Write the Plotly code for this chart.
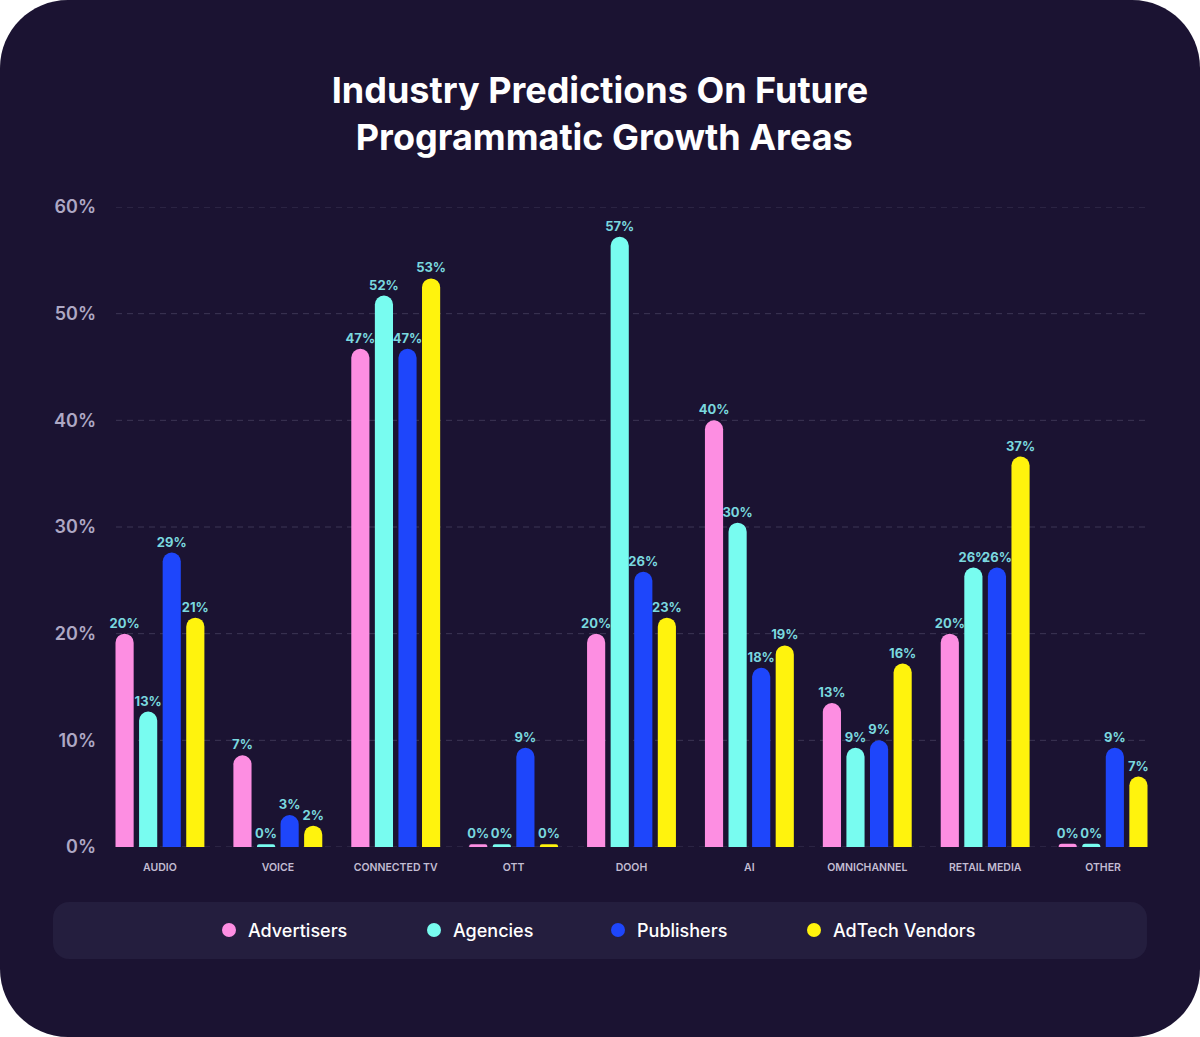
import plotly.graph_objects as go

# ---------------- data ----------------
categories = ["AUDIO", "VOICE", "CONNECTED TV", "OTT", "DOOH", "AI",
              "OMNICHANNEL", "RETAIL MEDIA", "OTHER"]
series_names = ["Advertisers", "Agencies", "Publishers", "AdTech Vendors"]

# bar heights as drawn (percent)
advertisers = [20.0, 8.6, 46.7, 0.25, 20.0, 40.0, 13.5, 20.0, 0.3]
agencies    = [12.7, 0.25, 51.7, 0.25, 57.2, 30.4, 9.3, 26.2, 0.3]
publishers  = [27.6, 3.0, 46.7, 9.3, 25.8, 16.8, 10.0, 26.2, 9.3]
adtech      = [21.5, 2.0, 53.3, 0.25, 21.5, 18.9, 17.2, 36.6, 6.6]

# printed labels
advertisers_lbl = ["20%", "7%", "47%", "0%", "20%", "40%", "13%", "20%", "0%"]
agencies_lbl    = ["13%", "0%", "52%", "0%", "57%", "30%", "9%", "26%", "0%"]
publishers_lbl  = ["29%", "3%", "47%", "9%", "26%", "18%", "9%", "26%", "9%"]
adtech_lbl      = ["21%", "2%", "53%", "0%", "23%", "19%", "16%", "37%", "7%"]

y_ticks = [0, 10, 20, 30, 40, 50, 60]
y_tick_labels = ["0%", "10%", "20%", "30%", "40%", "50%", "60%"]

colors = ["#fd8ee2", "#78fcf0", "#1e46fb", "#fff30d"]

# ---------------- layout geometry ----------------
W, H = 1200, 1037
ML, MR, MT, MB = 101, 38, 207, 190
PW, PH = W - ML - MR, H - MT - MB

def px_x(x):
    return (x - ML) / PW

def px_y(y):
    return (MT + PH - y) / PH

def rounded_rect(x0, y0, x1, y1, r):
    k = 0.5523 * r
    def P(x, y):
        return f"{px_x(x):.6f},{px_y(y):.6f}"
    path = f"M {P(x0 + r, y0)} L {P(x1 - r, y0)} "
    path += f"C {P(x1 - r + k, y0)} {P(x1, y0 + r - k)} {P(x1, y0 + r)} "
    path += f"L {P(x1, y1 - r)} "
    path += f"C {P(x1, y1 - r + k)} {P(x1 - r + k, y1)} {P(x1 - r, y1)} "
    path += f"L {P(x0 + r, y1)} "
    path += f"C {P(x0 + r - k, y1)} {P(x0, y1 - r + k)} {P(x0, y1 - r)} "
    path += f"L {P(x0, y0 + r)} "
    path += f"C {P(x0, y0 + r - k)} {P(x0 + r - k, y0)} {P(x0 + r, y0)} Z"
    return path

FONT = "Inter, Lato, sans-serif"

fig = go.Figure()

series_vals = [advertisers, agencies, publishers, adtech]
series_lbls = [advertisers_lbl, agencies_lbl, publishers_lbl, adtech_lbl]
for name, vals, lbls, col in zip(series_names, series_vals, series_lbls, colors):
    fig.add_trace(go.Bar(
        x=categories, y=vals, name=name,
        marker=dict(color=col, line=dict(width=0)),
        text=lbls, textposition="outside", constraintext="none",
        textfont=dict(family=FONT, size=13, color="#7ad8df", weight=700),
        cliponaxis=False, showlegend=False, hoverinfo="x+y+name",
    ))

shapes = []
# card background
shapes.append(dict(type="path", xref="paper", yref="paper",
                   path=rounded_rect(0, 0, W, H, 68),
                   fillcolor="#1b1332", line=dict(width=0), layer="below"))
# gridlines
for t in y_ticks:
    shapes.append(dict(type="line", xref="paper", yref="y",
                       x0=px_x(116), x1=px_x(1147), y0=t, y1=t,
                       line=dict(color="#3d3655", width=1, dash="6px,5px"),
                       layer="below"))
# legend box
shapes.append(dict(type="path", xref="paper", yref="paper",
                   path=rounded_rect(53, 902, 1147, 959, 16),
                   fillcolor="#241e3e", line=dict(width=0), layer="below"))

annotations = []
legend_dot_x = [229, 434, 618, 814]
legend_y = 930
for name, col, dx in zip(series_names, colors, legend_dot_x):
    shapes.append(dict(type="circle", xref="paper", yref="paper",
                       xsizemode="pixel", ysizemode="pixel",
                       xanchor=px_x(dx), yanchor=px_y(legend_y),
                       x0=-7, x1=7, y0=-7, y1=7,
                       fillcolor=col, line=dict(width=0), layer="above"))
    annotations.append(dict(xref="paper", yref="paper",
                            x=px_x(dx + 17), y=px_y(legend_y),
                            xanchor="left", yanchor="middle",
                            text=name, showarrow=False,
                            font=dict(family=FONT, size=18, color="#ffffff", weight=500)))

fig.update_layout(
    width=W, height=H,
    margin=dict(l=ML, r=MR, t=MT, b=MB, pad=0),
    paper_bgcolor="#ffffff",
    plot_bgcolor="rgba(0,0,0,0)",
    barmode="group", bargap=0.2, bargroupgap=0.23,
    barcornerradius="50%",
    title=dict(text="Industry Predictions On Future<br> Programmatic Growth Areas",
               x=0.5, xref="container", xanchor="center",
               y=1 - 103 / H, yref="container", yanchor="top",
               font=dict(family=FONT, size=36, color="#ffffff", weight=700)),
    xaxis=dict(showgrid=False, zeroline=False, showline=False, ticks="",
               tickfont=dict(family=FONT, size=10.5, color="#c3bdd3", weight=600),
               ticklabelstandoff=12, fixedrange=True),
    yaxis=dict(range=[0, 60], tickvals=y_ticks, ticktext=y_tick_labels,
               showgrid=False, zeroline=False, showline=False, ticks="",
               tickfont=dict(family=FONT, size=18, color="#aea8c4", weight=600),
               ticklabelstandoff=4, fixedrange=True),
    shapes=shapes,
    annotations=annotations,
    font=dict(family=FONT),
)

fig.write_html("out.html",
               config={"displayModeBar": False},
               post_script="document.body.style.margin='0';document.body.style.padding='0';")
